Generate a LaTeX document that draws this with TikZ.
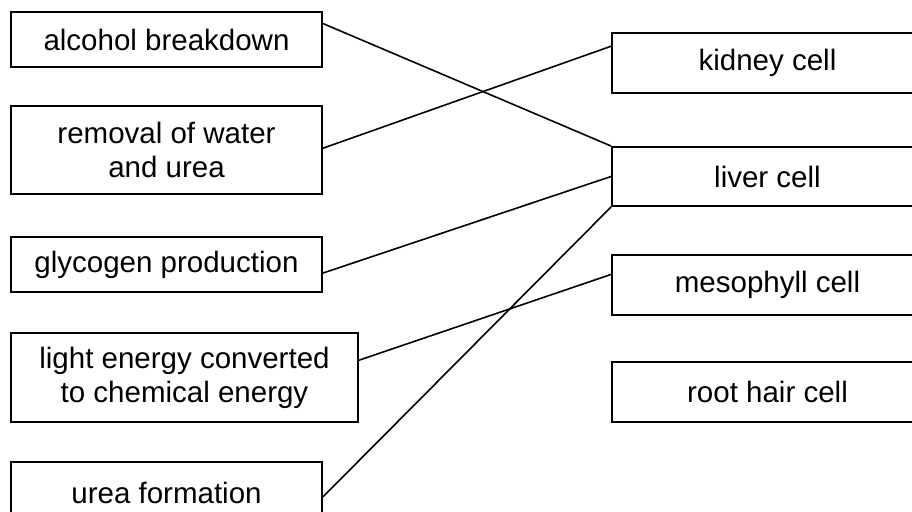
\documentclass[tikz,border=0pt]{standalone}
\usepackage{fontspec}
\setmainfont{Liberation Sans}
\usetikzlibrary{calc}
\begin{document}
\begin{tikzpicture}[x=1pt,y=-1pt,
  box/.style={draw=black,line width=2pt,rectangle,inner sep=0pt,align=center,
    font=\fontsize{29.5}{34}\selectfont},
  link/.style={draw=black,line width=1.6pt}]
\useasboundingbox (0,0) rectangle (912,511);
\clip (0,0) rectangle (912,511);
\fill[white] (0,0) rectangle (912,511);
% left boxes
\node[box,minimum width=311pt,minimum height=55pt] (a1) at (166.5,39.5) {alcohol breakdown};
\node[box,minimum width=311pt,minimum height=88pt] (a2) at (166.5,150) {removal of water\\and urea};
\node[box,minimum width=311pt,minimum height=55pt] (a3) at (166.5,264.5) {glycogen production};
\node[box,minimum width=347pt,minimum height=89pt] (a4) at (184.5,377.5) {light energy converted\\to chemical energy};
\node[box,minimum width=311pt,minimum height=62pt] (a5) at (166.5,493) {urea formation};
% right boxes
\node[box,minimum width=311pt,minimum height=60pt] (kidney) at (767.5,63) {kidney cell};
\node[box,minimum width=311pt,minimum height=59pt] (liver) at (767.5,176.5) {liver cell};
\node[box,minimum width=311pt,minimum height=60pt] (meso) at (767.5,285) {mesophyll cell};
\node[box,minimum width=311pt,minimum height=60pt] (root) at (767.5,392) {root hair cell};
% connectors
\draw[link] ($(a1.north east)!0.22!(a1.south east)$) -- (liver.north west);
\draw[link] ($(a2.north east)!0.48!(a2.south east)$) -- ($(kidney.north west)!0.23!(kidney.south west)$);
\draw[link] ($(a3.north east)!0.65!(a3.south east)$) -- (liver.west);
\draw[link] ($(a4.north east)!0.31!(a4.south east)$) -- ($(meso.north west)!0.33!(meso.south west)$);
\draw[link] ($(a5.north east)!0.56!(a5.south east)$) -- (liver.south west);
\end{tikzpicture}
\end{document}
